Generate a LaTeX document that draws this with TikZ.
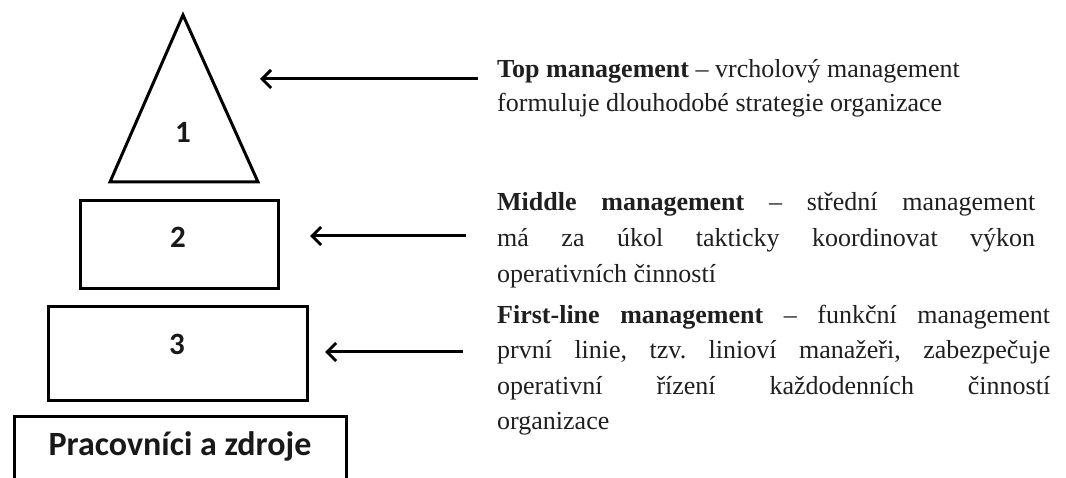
\documentclass[tikz,border=0pt]{standalone}
\usepackage{fontspec}
\setmainfont{Liberation Serif}
\newfontfamily\calib{Carlito}
\usetikzlibrary{arrows.meta}
\frenchspacing
\begin{document}
\begin{tikzpicture}[x=1pt,y=-1pt,
  shp/.style={draw=black,line width=3pt,line join=miter},
  num/.style={inner sep=0pt,font=\calib\bfseries\fontsize{31}{31}\selectfont,text=black!90},
  txt/.style={inner sep=0pt,anchor=base west,font=\fontsize{26}{30}\selectfont\frenchspacing,text=black!88},
  arr/.style={line width=3pt,-{Straight Barb[length=9pt,width=18pt]}}]
\useasboundingbox[fill=white] (0,0) rectangle (1066,478);
% pyramid
\draw[shp] (183,15) -- (258,182) -- (110,182) -- cycle;
\node[num] (n1) at (183,132) {1};
\draw[shp] (80,201) rectangle (278,289);
\node[num] (n2) at (178,237) {2};
\draw[shp] (48,307) rectangle (307,400);
\node[num] (n3) at (177,344) {3};
\draw[shp] (14,490) -- (14,416) -- (346,416) -- (346,490);
\node[inner sep=0pt,font=\calib\bfseries\fontsize{34}{34}\selectfont,text=black!90] (n4) at (180,446) {Pracovníci a zdroje};
% texts
\node[txt] (t1a) at (497,78) {\textbf{Top management} – vrcholový management};
\node[txt] (t1b) at (497,112) {formuluje dlouhodobé strategie organizace};
\node[txt] (t2a) at (497,211) {\hbox to 538pt{\textbf{Middle management} – střední management}};
\node[txt] (t2b) at (497,247) {\hbox to 538pt{má za úkol takticky koordinovat výkon}};
\node[txt] (t2c) at (497,283) {operativních činností};
\node[txt] (t3a) at (497,324) {\hbox to 553pt{\textbf{First-line management} – funkční management}};
\node[txt] (t3b) at (497,359) {\hbox to 553pt{první linie, tzv. linioví manažeři, zabezpečuje}};
\node[txt] (t3c) at (497,394) {\hbox to 553pt{operativní řízení každodenních činností}};
\node[txt] (t3d) at (497,429) {organizace};
% arrows
\coordinate (a1s) at (478,79);
\coordinate (a1e) at (260,79);
\coordinate (a2s) at (466,236);
\coordinate (a2e) at (310,236);
\coordinate (a3s) at (463,352);
\coordinate (a3e) at (325,352);
\draw[arr] (a1s) -- (a1e);
\draw[arr] (a2s) -- (a2e);
\draw[arr] (a3s) -- (a3e);
\end{tikzpicture}
\end{document}
